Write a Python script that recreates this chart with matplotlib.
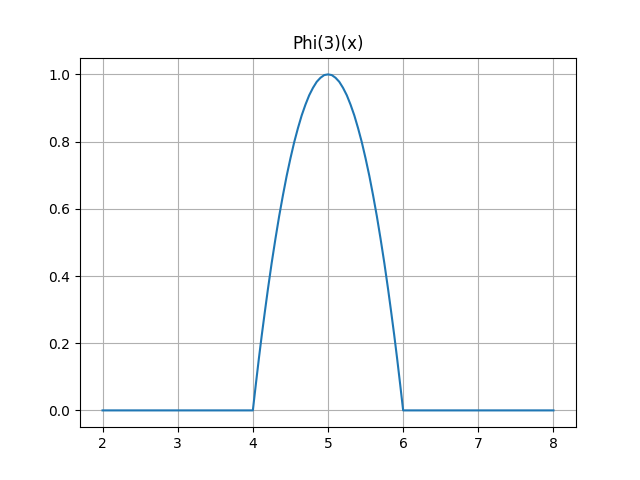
import matplotlib
matplotlib.use('Agg')
import matplotlib.pyplot as plt

# points
x = [2.0, 4.0, 4.04, 4.08, 4.12, 4.16, 4.2, 4.25, 4.3, 4.35, 4.4, 4.45, 4.5, 4.55, 4.6,
     4.65, 4.7, 4.75, 4.8, 4.85, 4.9, 4.95, 5.0, 5.05, 5.1, 5.15, 5.2, 5.25, 5.3,
     5.35, 5.4, 5.45, 5.5, 5.55, 5.6, 5.65, 5.7, 5.75, 5.8, 5.84, 5.88, 5.92, 5.96,
     6.0, 8.0]
y = [0.0, 0.0, 0.078, 0.154, 0.226, 0.294, 0.36, 0.438, 0.51, 0.578, 0.64, 0.698, 0.75,
     0.798, 0.84, 0.878, 0.91, 0.938, 0.96, 0.978, 0.99, 0.998, 1.0, 0.998, 0.99, 0.978,
     0.96, 0.938, 0.91, 0.878, 0.84, 0.798, 0.75, 0.698, 0.64, 0.578, 0.51, 0.438, 0.36,
     0.294, 0.226, 0.154, 0.078, 0.0, 0.0]

fig, ax = plt.subplots(figsize=(6.4, 4.8), dpi=100)
ax.plot(x, y)
ax.set_title('Phi(3)(x)')
ax.grid()

plt.savefig('out.png')
